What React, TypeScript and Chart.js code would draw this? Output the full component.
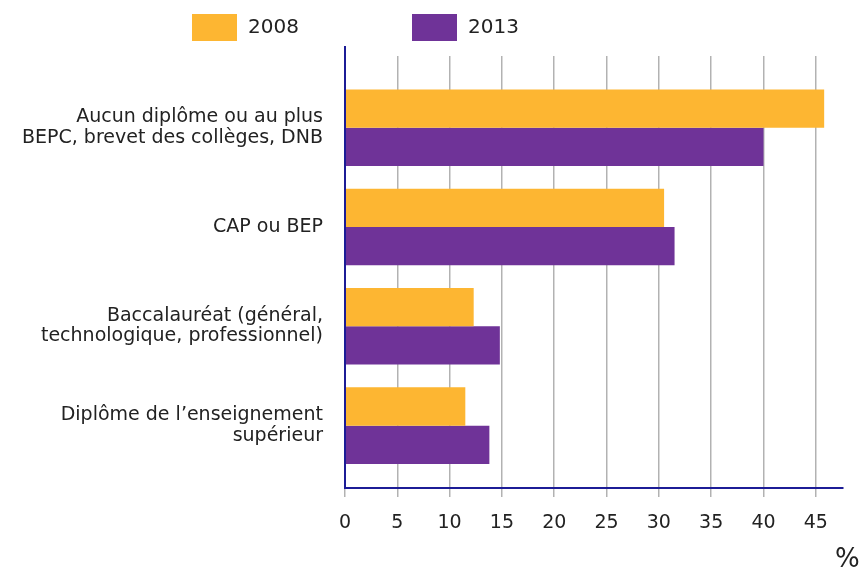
import React, { useEffect, useRef } from "react";
import { Chart, registerables } from "chart.js";

Chart.register(...registerables);

const categories: string[][] = [
  ["Aucun diplôme ou au plus", "BEPC, brevet des collèges, DNB"],
  ["CAP ou BEP"],
  ["Baccalauréat (général,", "technologique, professionnel)"],
  ["Diplôme de l’enseignement", "supérieur"],
];
const seriesNames = ["2008", "2013"];
const values2008 = [45.8, 30.5, 12.3, 11.5];
const values2013 = [40.0, 31.5, 14.8, 13.8];
const xTicks = [0, 5, 10, 15, 20, 25, 30, 35, 40, 45];
const unitLabel = "%";

const COLORS = ["#fdb632", "#6f3398"];
const NAVY = "#1c1c96";
const FONT = "'DejaVu Sans', Verdana, sans-serif";
const TEXT = "#222222";

const customPlugin = {
  id: "custom",
  afterDraw(chart: any) {
    const { ctx, chartArea } = chart;
    ctx.save();
    // y axis line extended above the plot
    ctx.strokeStyle = NAVY;
    ctx.lineWidth = 2;
    ctx.beginPath();
    ctx.moveTo(chartArea.left, chartArea.top - 10);
    ctx.lineTo(chartArea.left, chartArea.bottom + 1);
    ctx.stroke();
    // legend
    const items = [
      { x: 192, label: seriesNames[0], color: COLORS[0] },
      { x: 412, label: seriesNames[1], color: COLORS[1] },
    ];
    ctx.font = `20px ${FONT}`;
    ctx.textBaseline = "middle";
    ctx.textAlign = "left";
    items.forEach((it) => {
      ctx.fillStyle = it.color;
      ctx.fillRect(it.x, 14, 45, 27);
      ctx.fillStyle = TEXT;
      ctx.fillText(it.label, it.x + 56, 28);
    });
    // unit label
    ctx.font = `26px ${FONT}`;
    ctx.textBaseline = "alphabetic";
    ctx.fillText(unitLabel, 835, 567);
    ctx.restore();
  },
};

export default function App() {
  const ref = useRef<HTMLCanvasElement | null>(null);
  useEffect(() => {
    if (!ref.current) return;
    const chart = new Chart(ref.current, {
      type: "bar",
      data: {
        datasets: [
          {
            label: seriesNames[0],
            data: values2008.map((v, i) => ({ x: v, y: i })),
            backgroundColor: COLORS[0],
            borderWidth: 0,
          },
          {
            label: seriesNames[1],
            data: values2013.map((v, i) => ({ x: v, y: i })),
            backgroundColor: COLORS[1],
            borderWidth: 0,
          },
        ],
      },
      options: {
        indexAxis: "y",
        animation: false,
        responsive: true,
        maintainAspectRatio: false,
        layout: { padding: { top: 56, right: 19, left: 0, bottom: 0 } },
        plugins: { legend: { display: false }, tooltip: { enabled: false } },
        datasets: { bar: { categoryPercentage: 0.771, barPercentage: 1 } },
        scales: {
          x: {
            type: "linear",
            min: 0,
            max: 47.6,
            z: 1,
            afterBuildTicks: (scale: any) => {
              scale.ticks = xTicks.map((v) => ({ value: v }));
            },
            afterFit: (scale: any) => {
              scale.height = 84;
            },
            grid: {
              color: "rgba(0,0,0,0.3)",
              lineWidth: 1.5,
              drawTicks: true,
              tickLength: 9,
              tickColor: "rgba(0,0,0,0.3)",
            },
            border: { display: true, color: NAVY, width: 2 },
            ticks: {
              padding: 15,
              color: TEXT,
              font: { family: FONT, size: 19 },
            },
          },
          y: {
            type: "linear",
            offset: false,
            min: -0.722,
            max: 3.628,
            reverse: true,
            afterBuildTicks: (scale: any) => {
              scale.ticks = categories.map((_, i) => ({ value: i }));
            },
            afterFit: (scale: any) => {
              scale.width = 345;
            },
            grid: { display: false, drawTicks: false, offset: false },
            border: { display: false },
            ticks: {
              padding: 22,
              color: TEXT,
              font: { family: FONT, size: 19, lineHeight: 1.07 },
              callback: (v: any) => categories[Number(v)] ?? "",
            },
          },
        },
      },
      plugins: [customPlugin],
    });
    return () => chart.destroy();
  }, []);
  return (
    <div style={{ position: "absolute", left: 0, top: 0, width: 862, height: 572 }}>
      <canvas ref={ref} />
    </div>
  );
}
